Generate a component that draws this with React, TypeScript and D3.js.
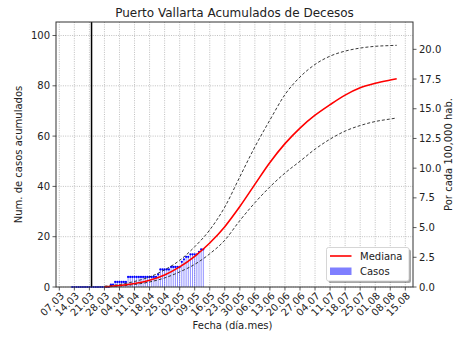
import React from "react";
import * as d3 from "d3";

const W = 468, H = 337;
const M = { left: 56, right: 413, top: 22, bottom: 287 };

// X tick labels (weekly, 2020)
const xTickLabels = ["07.03","14.03","21.03","28.03","04.04","11.04","18.04","25.04","02.05","09.05","16.05","23.05","30.05","06.06","13.06","20.06","27.06","04.07","11.07","18.07","25.07","01.08","08.08","15.08"];
const yLeftTicks = [0, 20, 40, 60, 80, 100];
const yRightTicks = [0, 2.5, 5, 7.5, 10, 12.5, 15, 17.5, 20];

// Daily cumulative deaths starting 13.03
const casesStart = "2020-03-13";
const casos = [
  0,0,0,0,0,0,0,0,0,0,0,0,0,0,0,0,0,0,
  1,1,
  2,2,2,2,2,2,
  4,4,4,4,4,4,4,4,4,4,4,4,4,4,
  5,
  7,7,7,7,7,
  8,8,8,8,8,
  10,11,12,12,13,13,13,13,14,15,15,
];

// Model curves (weekly from 28.03, last at 11.08)
const curveDates = ["2020-03-28","2020-04-04","2020-04-11","2020-04-18","2020-04-25","2020-05-02","2020-05-09","2020-05-16","2020-05-23","2020-05-30","2020-06-06","2020-06-13","2020-06-20","2020-06-27","2020-07-04","2020-07-11","2020-07-18","2020-07-25","2020-08-01","2020-08-08","2020-08-11"];
const mediana = [0.1,0.6,1.4,2.7,4.8,8.0,12.2,17.5,24.0,32.0,40.8,49.5,57.0,63.2,68.3,72.5,76.3,79.2,81.0,82.3,82.8];
const superior = [0.3,1.0,2.2,4.0,6.8,10.6,16.0,22.7,31.8,43.8,55.7,66.4,76.5,83.5,88.5,91.8,93.8,95.0,95.7,96.0,96.1];
const inferior = [0.0,0.4,1.0,2.0,3.6,6.0,9.0,13.2,18.6,26.4,33.5,39.8,45.3,50.0,54.8,58.8,62.0,64.2,65.8,66.8,67.2];

const lockdownDate = "2020-03-22";

const DAY = 86400000;
const parse = (s: string) => new Date(s + "T00:00:00Z");
const parseTick = (s: string) => parse(`2020-${s.slice(3, 5)}-${s.slice(0, 2)}`);

export default function App() {
  const t0 = parseTick(xTickLabels[0]);
  const t1 = parseTick(xTickLabels[xTickLabels.length - 1]);
  const x = d3.scaleUtc()
    .domain([new Date(t0.getTime() - 1.54 * DAY), new Date(t1.getTime() + 3.58 * DAY)])
    .range([M.left, M.right]);
  const yL = d3.scaleLinear().domain([0, 105.37]).range([M.bottom, M.top]);
  const yR = d3.scaleLinear().domain([0, 22.3]).range([M.bottom, M.top]);

  const cStart = parse(casesStart);
  const casePts = casos.map((v, i) => ({ d: new Date(cStart.getTime() + i * DAY), v }));
  const barW = 0.45 * (x(new Date(cStart.getTime() + DAY)) - x(cStart));

  const mk = (arr: number[]) =>
    d3.line<number>()
      .x((_, i) => x(parse(curveDates[i])))
      .y((v) => yL(v))
      .curve(d3.curveMonotoneX)(arr) || "";

  const font = "DejaVu Sans, sans-serif";
  const gridColor = "#b0b0b0";

  return (
    <svg width={W} height={H} style={{ position: "absolute", left: 0, top: 0, background: "#fff" }} fontFamily={font}>
      <rect x={0} y={0} width={W} height={H} fill="#fff" />
      {/* grid */}
      {xTickLabels.map((t) => (
        <line key={"gx" + t} x1={x(parseTick(t))} x2={x(parseTick(t))} y1={M.top} y2={M.bottom}
          stroke={gridColor} strokeWidth={0.8} strokeDasharray="1,1.3" />
      ))}
      {yLeftTicks.map((t) => (
        <line key={"gy" + t} x1={M.left} x2={M.right} y1={yL(t)} y2={yL(t)}
          stroke={gridColor} strokeWidth={0.8} strokeDasharray="1,1.3" />
      ))}
      {/* bars */}
      {casePts.map((p, i) => (
        <rect key={"b" + i} x={x(p.d) - barW / 2} y={yL(p.v)} width={barW} height={M.bottom - yL(p.v)}
          fill="#0000ff" fillOpacity={0.45} />
      ))}
      {casePts.map((p, i) => (
        <circle key={"c" + i} cx={x(p.d)} cy={yL(p.v)} r={1.1} fill="#0000ff" />
      ))}
      {/* lockdown line */}
      <line x1={x(parse(lockdownDate))} x2={x(parse(lockdownDate))} y1={M.top} y2={M.bottom} stroke="#000" strokeWidth={1.5} />
      {/* curves */}
      <path d={mk(superior)} fill="none" stroke="#222" strokeWidth={0.9} strokeDasharray="3,2" />
      <path d={mk(inferior)} fill="none" stroke="#222" strokeWidth={0.9} strokeDasharray="3,2" />
      <path d={mk(mediana)} fill="none" stroke="#ff0000" strokeWidth={1.6} />
      {/* spines */}
      <rect x={M.left} y={M.top} width={M.right - M.left} height={M.bottom - M.top} fill="none" stroke="#333" strokeWidth={1} />
      {/* left ticks */}
      {yLeftTicks.map((t) => (
        <g key={"yl" + t}>
          <line x1={M.left - 3.5} x2={M.left} y1={yL(t)} y2={yL(t)} stroke="#333" strokeWidth={0.8} />
          <text x={M.left - 6} y={yL(t)} dy="0.35em" textAnchor="end" fontSize={10} fill="#222">{t}</text>
        </g>
      ))}
      {/* right ticks */}
      {yRightTicks.map((t) => (
        <g key={"yr" + t}>
          <line x1={M.right} x2={M.right + 3.5} y1={yR(t)} y2={yR(t)} stroke="#333" strokeWidth={0.8} />
          <text x={M.right + 6} y={yR(t)} dy="0.35em" textAnchor="start" fontSize={10} fill="#222">{t.toFixed(1)}</text>
        </g>
      ))}
      {/* x ticks */}
      {xTickLabels.map((t) => {
        const px = x(parseTick(t));
        return (
          <g key={"xt" + t}>
            <line x1={px} x2={px} y1={M.bottom} y2={M.bottom + 3.5} stroke="#333" strokeWidth={0.8} />
            <text transform={`translate(${px + 3},${M.bottom + 7}) rotate(-45)`} textAnchor="end" dy="0.35em" fontSize={10} fill="#222">{t}</text>
          </g>
        );
      })}
      {/* labels */}
      <text x={(M.left + M.right) / 2} y={17} textAnchor="middle" fontSize={12} fill="#222">Puerto Vallarta Acumulados de Decesos</text>
      <text x={(M.left + M.right) / 2 - 2} y={329} textAnchor="middle" fontSize={10} fill="#222">Fecha (día.mes)</text>
      <text transform={`translate(22,${(M.top + M.bottom) / 2}) rotate(-90)`} textAnchor="middle" fontSize={10} fill="#222">Num. de casos acumulados</text>
      <text transform={`translate(452,${(M.top + M.bottom) / 2}) rotate(-90)`} textAnchor="middle" fontSize={10} fill="#222">Por cada 100,000 hab.</text>
      {/* legend */}
      <g>
        <rect x={328.5} y={249.5} width={82.5} height={33.5} rx={2} fill="#000" fillOpacity={0.35} />
        <rect x={326.5} y={247.5} width={82.5} height={33.5} rx={2} fill="#fff" stroke="#ccc" strokeWidth={0.8} />
        <line x1={330} x2={351.5} y1={256} y2={256} stroke="#ff0000" strokeWidth={1.6} />
        <text x={360} y={256} dy="0.35em" fontSize={10} fill="#222">Mediana</text>
        <rect x={330} y={267.5} width={21.5} height={7.5} fill="#0000ff" fillOpacity={0.5} />
        <text x={360} y={271.5} dy="0.35em" fontSize={10} fill="#222">Casos</text>
      </g>
    </svg>
  );
}
